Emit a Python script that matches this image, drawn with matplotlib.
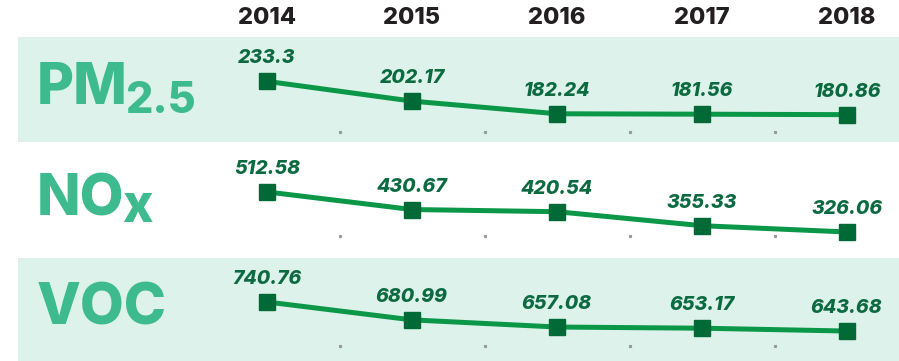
import numpy as np
import matplotlib
matplotlib.use('Agg')
import matplotlib.pyplot as plt
import matplotlib.transforms as mtransforms

years = ['2014', '2015', '2016', '2017', '2018']
pm25 = [233.3, 202.17, 182.24, 181.56, 180.86]
nox = [512.58, 430.67, 420.54, 355.33, 326.06]
voc = [740.76, 680.99, 657.08, 653.17, 643.68]

band_col = '#ddf2ea'
name_col = '#3dbb8f'
line_col = '#0a9748'
mark_col = '#006a36'
val_col = '#0c6a40'
font = 'Inter'

W, H = 899, 361
fig = plt.figure(figsize=(W / 100, H / 100), dpi=100)

# row layout in pixels: (top, bottom, ylim, shaded, dot height as axes fraction, subscript size)
rows = [
    ('PM', '2.5', pm25, 37, 142, (137.8, 303.1), True, 0.095, 31),
    ('NO', 'x', nox, 142, 258, (205.0, 745.0), False, 0.19, 37),
    ('VOC', '', voc, 258, 361, (543.6, 887.7), True, 0.146, 31),
]

x = np.arange(len(years))
left_px, right_px = 18, 899
x0_px, step_px = 267, 145
xlim = ((left_px - x0_px) / step_px, (right_px - x0_px) / step_px)

axes = []
for name, sub, vals, top, bot, ylim, shaded, dot_y, sub_size in rows:
    ax = fig.add_axes([left_px / W, 1 - bot / H, (right_px - left_px) / W, (bot - top) / H])
    ax.set_xlim(*xlim)
    ax.set_ylim(*ylim)
    ax.set_facecolor(band_col if shaded else 'white')
    for s in ax.spines.values():
        s.set_visible(False)
    ax.set_yticks([])
    ax.set_xticks([])

    ax.plot(x, vals, color=line_col, lw=3.6, solid_capstyle='butt', zorder=2)
    ax.plot(x, vals, ls='none', marker='s', ms=12, color=mark_col, zorder=3)
    for xi, v in zip(x, vals):
        ax.annotate(f'{v:g}', (xi, v), xytext=(0, 10),
                    textcoords='offset points', ha='center', va='bottom',
                    fontsize=14, fontweight=800, style='italic',
                    family=font, color=val_col)

    # small grey dots between the years
    tr = mtransforms.blended_transform_factory(ax.transData, ax.transAxes)
    mids = x[:-1] + 0.5
    ax.plot(mids, [dot_y] * len(mids), ls='none', marker='s', ms=1.3,
            color='#999999', transform=tr)

    # pollutant name, subscript tacked on after it
    t = ax.text(19 / (right_px - left_px), 0.5, name,
                transform=ax.transAxes, ha='left', va='center', fontsize=41,
                fontweight=800, family=font, color=name_col)
    if sub:
        ax.annotate(sub, xy=(1, 0), xycoords=t, xytext=(-2, -4),
                    textcoords='offset points', ha='left', va='bottom',
                    fontsize=sub_size, fontweight=800, family=font, color=name_col)
    axes.append(ax)

top_ax = axes[0]
top_ax.xaxis.tick_top()
top_ax.set_xticks(x)
top_ax.set_xticklabels(years, fontsize=17, fontweight=800, family=font,
                       color='#231f20')
top_ax.tick_params(axis='x', length=0, pad=6)

fig.savefig('out.png', dpi=100)
